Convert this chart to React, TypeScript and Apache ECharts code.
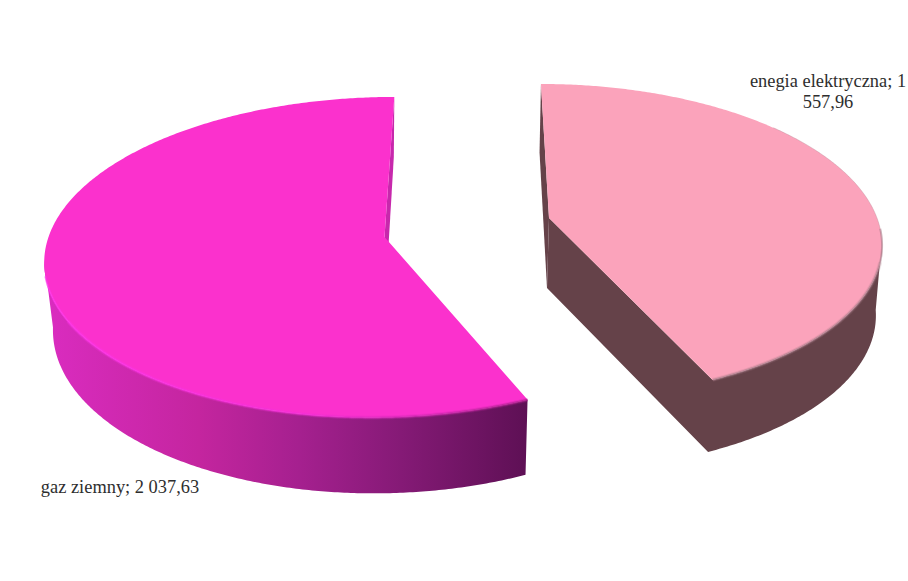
import React, { useEffect, useRef } from "react";
import * as echarts from "echarts";

// Energy carriers and their values
const categories = ["enegia elektryczna", "gaz ziemny"];
const values = [1557.96, 2037.63];
const START_ANGLE = -90;
const DEG = Math.PI / 180;

type Plane = { cx: number; cy: number; rx: number; ry: number; k: number; shear: number };
type SliceStyle = {
  top: Plane;
  bottom: Plane;
  topColor: string;
  faceColor: string;
  wall: (() => any) | string;
  rim: () => any;
  frontArc: [number, number];
  label: { x: number; y: number };
};

const gradient = (x0: number, x1: number, stops: [number, string][]) =>
  new echarts.graphic.LinearGradient(
    x0, 0, x1, 0,
    stops.map(([offset, color]) => ({ offset, color })),
    true
  );

const sliceStyles: SliceStyle[] = [
  {
    top: { cx: 549, cy: 218, rx: 328, ry: 153.6, k: 0.146, shear: 0.06 },
    bottom: { cx: 547, cy: 288, rx: 324, ry: 155.5, k: 0.146, shear: 0.055 },
    topColor: "#fba3bb",
    faceColor: "#654249",
    wall: "#654249",
    rim: () => "#a97c88",
    frontArc: [8, 66],
    label: { x: 828, y: 91 },
  },
  {
    top: { cx: 384.5, cy: 237, rx: 336, ry: 157.7, k: 0.126, shear: -0.07 },
    bottom: { cx: 385, cy: 304, rx: 328, ry: 165.5, k: 0.126, shear: -0.06 },
    topColor: "#fb31cd",
    faceColor: "#c728ac",
    wall: () =>
      gradient(45, 526, [
        [0, "#da2cc0"],
        [0.32, "#c4259f"],
        [0.53, "#a5208f"],
        [0.74, "#851a76"],
        [1, "#5e1055"],
      ]),
    rim: () =>
      gradient(45, 526, [
        [0, "#ff34ea"],
        [0.55, "#f42ed6"],
        [1, "#b0208f"],
      ]),
    frontArc: [66, 172],
    label: { x: 120, y: 487 },
  },
];

// Projects a point on the pie's rim, with a simple perspective toward the viewer
const project = (p: Plane, deg: number): number[] => {
  const a = deg * DEG;
  const s = 1 / (1 - p.k * Math.sin(a));
  const dy = p.ry * Math.sin(a) * s;
  return [p.cx + p.rx * Math.cos(a) * s + p.shear * dy, p.cy + dy];
};

const arc = (p: Plane, from: number, to: number): number[][] => {
  const steps = Math.ceil(Math.abs(to - from) * 2);
  const out: number[][] = [];
  for (let i = 0; i <= steps; i++) out.push(project(p, from + ((to - from) * i) / steps));
  return out;
};

// "2 037,63" style of number
const formatValue = (v: number) => {
  const [whole, frac] = v.toFixed(2).split(".");
  return whole.replace(/\B(?=(\d{3})+$)/g, " ") + "," + frac;
};

const total = values.reduce((a, b) => a + b, 0);

const renderSlice = (params: any, api: any) => {
  const i = params.dataIndex;
  const st = sliceStyles[i];
  const before = values.slice(0, i).reduce((a, b) => a + b, 0);
  const from = START_ANGLE + (before / total) * 360;
  const to = from + (api.value(0) / total) * 360;

  const apexTop = [st.top.cx, st.top.cy];
  const apexBottom = [st.bottom.cx, st.bottom.cy];
  const topArc = arc(st.top, from, to);
  const wallFill = typeof st.wall === "string" ? st.wall : st.wall();

  const children: any[] = [];
  const poly = (points: number[][], fill: any) =>
    children.push({ type: "polygon", shape: { points }, style: { fill } });

  // The wall facing the viewer, running up to the silhouette of the pie
  const [frontFrom, frontTo] = st.frontArc;
  const frontTop = arc(st.top, frontFrom, frontTo);
  const frontBottom = arc(st.bottom, frontFrom, frontTo);
  if (i === 0) {
    // The cut face and the outer wall share a colour, so they form one outline
    poly([apexTop, apexBottom, ...frontBottom.slice().reverse(), ...frontTop], wallFill);
  } else {
    poly([...frontTop, ...frontBottom.slice().reverse()], wallFill);
  }
  // Cut face seen behind the lid at the back of the slice
  const backAngle = i === 0 ? from : to;
  poly(
    [project(st.top, backAngle), project(st.bottom, backAngle), apexBottom, apexTop],
    st.faceColor
  );
  poly([apexTop, ...topArc], st.topColor);

  // Soft bevel along the front rim
  const bevel: [number, number, number, number][] =
    i === 0
      ? [
          [4, 0.2, 16, frontTo],
          [2, 0.6, 4, frontTo],
          [1, 0.3, -40, 4],
        ]
      : [
          [4, 0.25, frontFrom, 150],
          [2, 0.7, frontFrom, 166],
        ];
  for (const [lineWidth, opacity, a0, a1] of bevel) {
    children.push({
      type: "polyline",
      shape: { points: arc(st.top, a0, a1) },
      style: { fill: null, stroke: st.rim(), lineWidth, opacity },
    });
  }

  const text = `${categories[i]}; ${formatValue(api.value(0))}`.replace(/ (\d{3},)/, i === 0 ? "\n$1" : " $1");
  children.push({
    type: "text",
    x: st.label.x,
    y: st.label.y,
    style: {
      text,
      fill: "#2e2e2e",
      font: '18.4px "Liberation Serif"',
      align: "center",
      verticalAlign: "middle",
      lineHeight: 21,
    },
  });

  return { type: "group", children };
};

export default function App() {
  const ref = useRef<HTMLDivElement>(null);
  useEffect(() => {
    document.body.style.margin = "0";
    const chart = echarts.init(ref.current!, undefined, { renderer: "svg" });
    chart.setOption({
      animation: false,
      backgroundColor: "#ffffff",
      series: [
        {
          type: "custom",
          coordinateSystem: "none",
          data: categories.map((name, i) => ({ name, value: [values[i]] })),
          renderItem: renderSlice,
          silent: true,
        },
      ],
    });
    return () => chart.dispose();
  }, []);
  return <div ref={ref} style={{ width: 908, height: 581 }} />;
}
